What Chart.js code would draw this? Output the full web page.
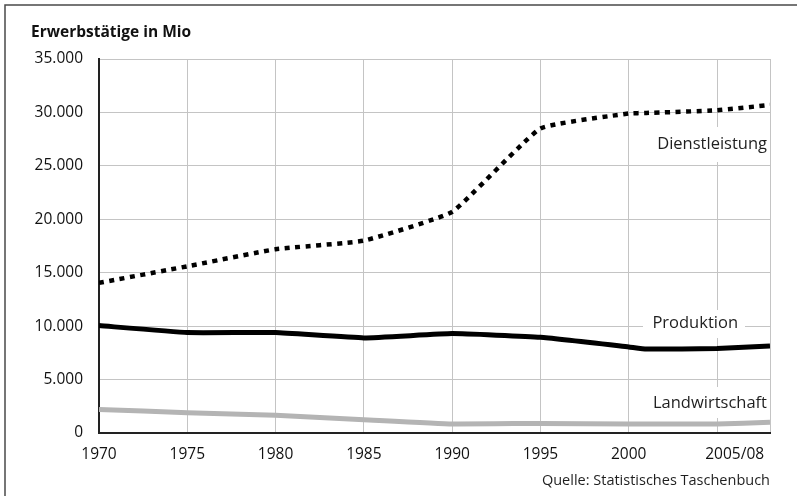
<!DOCTYPE html>
<html lang="de">
<head>
<meta charset="UTF-8">
<title>Erwerbstätige in Mio</title>
<script src="https://cdn.jsdelivr.net/npm/chart.js"></script>
<style>
    html, body { margin: 0; padding: 0; background: #fff; }
    #wrap { position: relative; width: 797px; height: 496px; }
</style>
</head>
<body>
<div id="wrap"><canvas id="chart" width="797" height="496"></canvas></div>
<script>
    // data (Tsd. Erwerbstätige)
    const years = [1970, 1975, 1980, 1985, 1990, 1995, 2000, 2001, 2005, 2008];
    const dienstleistung = [14050, 15600, 17200, 18000, 20700, 28500, 29900, 29950, 30200, 30700];
    const produktion = [10050, 9400, 9400, 8900, 9300, 8950, 8050, 7850, 7900, 8150];
    const landwirtschaft = [2200, 1900, 1650, 1250, 850, 900, 850, 850, 850, 1000];

    const tickYears = [1970, 1975, 1980, 1985, 1990, 1995, 2000, 2005, 2006, 2008];
    const tickLabels = ['1970', '1975', '1980', '1985', '1990', '1995', '2000', '', '2005/08', ''];
    const labelOnlyTick = 2006;

    const FONT = "'Open Sans', sans-serif";
    const GRID = '#c4c4c4';

    function pts(values) {
        return years.map((y, i) => ({ x: y, y: values[i] }));
    }

    // frame, title, series labels, source
    const decor = {
        id: 'decor',
        beforeDraw(chart) {
            const c = chart.ctx;
            c.save();
            c.fillStyle = '#fff';
            c.fillRect(0, 0, chart.width, chart.height);
            c.strokeStyle = '#4a4a4a';
            c.lineWidth = 1.5;
            c.beginPath();
            c.moveTo(5, chart.height);
            c.lineTo(5, 5);
            c.lineTo(chart.width, 5);
            c.stroke();
            c.fillStyle = '#111';
            c.font = "bold 15.5px " + FONT;
            c.textBaseline = 'alphabetic';
            c.fillText('Erwerbstätige in Mio', 31, 37);
            c.restore();
        },
        beforeDatasetsDraw(chart) {
            const c = chart.ctx;
            const r = chart.chartArea.right;
            c.save();
            c.fillStyle = '#fff';
            c.fillRect(r - 125, 127, 124, 35);
            c.fillRect(r - 127, 310, 102, 28);
            c.fillRect(r - 125, 387, 124, 31);
            c.fillStyle = '#1f1f1f';
            c.font = "16.5px " + FONT;
            c.textAlign = 'right';
            c.textBaseline = 'middle';
            c.fillText('Dienstleistung', r - 3, 144);
            c.fillText('Produktion', r - 32, 323);
            c.fillText('Landwirtschaft', r - 3, 403);
            c.font = "14.5px " + FONT;
            c.fillText('Quelle: Statistisches Taschenbuch', r, 481);
            c.restore();
        }
    };

    new Chart(document.getElementById('chart'), {
        type: 'line',
        data: {
            datasets: [
                {
                    label: 'Dienstleistung',
                    data: pts(dienstleistung),
                    borderColor: '#000',
                    borderWidth: 4.5,
                    borderDash: [5, 5.5],
                    borderCapStyle: 'butt',
                    tension: 0.12
                },
                {
                    label: 'Produktion',
                    data: pts(produktion),
                    borderColor: '#000',
                    borderWidth: 5,
                    tension: 0.12
                },
                {
                    label: 'Landwirtschaft',
                    data: pts(landwirtschaft),
                    borderColor: '#b4b4b4',
                    borderWidth: 5,
                    tension: 0.12
                }
            ]
        },
        options: {
            responsive: false,
            animation: false,
            layout: { padding: { left: 0, right: 27, top: 59, bottom: 0 } },
            elements: { point: { radius: 0 } },
            plugins: {
                legend: { display: false },
                tooltip: { enabled: false }
            },
            scales: {
                x: {
                    type: 'linear',
                    min: 1970,
                    max: 2008,
                    afterBuildTicks(scale) {
                        scale.ticks = tickYears.map(v => ({ value: v }));
                    },
                    afterFit(scale) { scale.height = 63; },
                    ticks: {
                        autoSkip: false,
                        maxRotation: 0,
                        padding: 12,
                        color: '#111',
                        font: { family: FONT, size: 15.5 },
                        callback: (v) => tickLabels[tickYears.indexOf(v)]
                    },
                    grid: {
                        color: (ctx) => (ctx.tick && ctx.tick.value === labelOnlyTick) ? 'rgba(0,0,0,0)' : GRID,
                        lineWidth: 1,
                        drawTicks: false
                    },
                    border: { color: '#222', width: 2 }
                },
                y: {
                    min: 0,
                    max: 35000,
                    afterFit(scale) { scale.width = 99; },
                    ticks: {
                        stepSize: 5000,
                        padding: 16,
                        color: '#111',
                        font: { family: FONT, size: 15.5 },
                        callback: (v) => v.toLocaleString('de-DE')
                    },
                    grid: { color: GRID, lineWidth: 1, drawTicks: false },
                    border: { color: '#222', width: 2 }
                }
            }
        },
        plugins: [decor]
    });
</script>
</body>
</html>
